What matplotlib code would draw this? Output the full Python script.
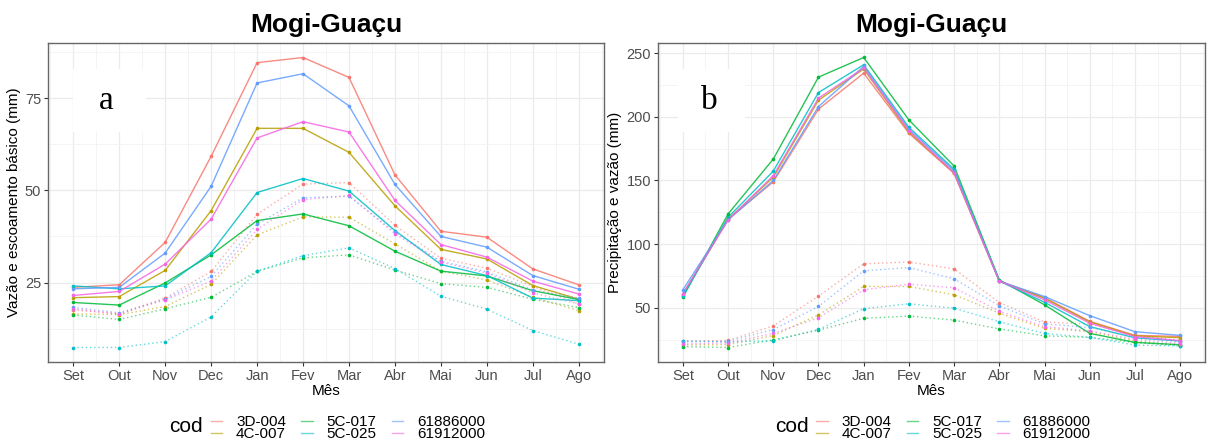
import matplotlib
matplotlib.use("Agg")
import matplotlib.pyplot as plt
from matplotlib.lines import Line2D
from matplotlib.patches import Rectangle
from matplotlib.ticker import MultipleLocator

plt.rcParams['font.family'] = ['Liberation Sans', 'DejaVu Sans']

meses = ["Set", "Out", "Nov", "Dec", "Jan", "Fev", "Mar", "Abr", "Mai", "Jun", "Jul", "Ago"]
codigos = ["3D-004", "4C-007", "5C-017", "5C-025", "61886000", "61912000"]
cores = ["#F8766D", "#B79F00", "#00BA38", "#00BFC4", "#619CFF", "#F564E3"]

# vazão média mensal (mm)
vazao = {
    "3D-004":   [23.7, 24.4, 35.9, 59.2, 84.6, 86.0, 80.6, 54.2, 38.9, 37.3, 28.7, 24.4],
    "4C-007":   [20.9, 21.2, 28.3, 44.5, 66.8, 66.8, 60.3, 45.8, 34.0, 31.4, 24.2, 20.5],
    "5C-017":   [19.6, 18.9, 24.9, 32.5, 41.8, 43.6, 40.4, 33.5, 28.1, 26.8, 22.8, 20.4],
    "5C-025":   [24.1, 23.3, 24.1, 33.1, 49.4, 53.2, 49.8, 39.1, 29.9, 26.9, 20.8, 20.1],
    "61886000": [23.3, 23.7, 33.0, 51.1, 79.1, 81.6, 72.9, 51.6, 37.5, 34.6, 26.9, 23.2],
    "61912000": [21.5, 22.6, 30.0, 42.2, 64.2, 68.6, 65.8, 47.3, 35.3, 31.9, 25.4, 21.9],
}

# escoamento básico (mm)
base = {
    "3D-004":   [17.6, 16.5, 20.8, 28.0, 43.5, 51.7, 52.1, 40.5, 31.6, 28.9, 24.0, 19.2],
    "4C-007":   [16.5, 16.3, 18.5, 24.5, 37.9, 42.8, 42.7, 35.5, 28.1, 25.7, 21.0, 17.4],
    "5C-017":   [16.2, 15.0, 17.9, 21.0, 28.0, 31.7, 32.5, 28.4, 24.7, 23.7, 20.5, 18.2],
    "5C-025":   [7.4, 7.4, 9.0, 15.7, 28.1, 32.3, 34.4, 28.8, 21.3, 17.8, 12.0, 8.3],
    "61886000": [18.3, 16.8, 20.5, 26.7, 40.8, 48.0, 48.4, 38.7, 30.8, 27.9, 23.0, 20.8],
    "61912000": [17.9, 16.5, 20.3, 25.4, 39.4, 47.5, 48.6, 38.2, 30.5, 27.6, 22.2, 19.2],
}

# precipitação média mensal (mm)
precip = {
    "3D-004":   [61.0, 119.5, 148.9, 206.0, 234.2, 187.0, 155.5, 71.0, 58.0, 39.5, 28.4, 27.6],
    "4C-007":   [60.0, 119.5, 152.5, 213.0, 237.5, 188.0, 156.0, 71.0, 57.5, 39.0, 28.0, 26.6],
    "5C-017":   [58.3, 123.7, 166.8, 231.1, 246.5, 197.5, 161.3, 72.0, 52.4, 30.0, 22.9, 21.1],
    "5C-025":   [59.0, 121.0, 157.3, 219.0, 240.8, 191.7, 158.7, 71.0, 54.4, 35.3, 26.5, 24.0],
    "61886000": [64.2, 119.0, 150.0, 208.0, 239.5, 190.2, 157.6, 71.0, 58.9, 43.9, 31.3, 28.4],
    "61912000": [61.0, 119.0, 153.8, 214.6, 238.2, 189.1, 156.0, 71.0, 56.3, 38.0, 27.5, 24.3],
}

W, H = 1209, 442
fig = plt.figure(figsize=(W / 100, H / 100), dpi=100)


def painel(px0, px1, solida, pontilhada, ylabel, major, minor, letra, caixa):
    ax = fig.add_axes([px0 / W, (H - 362) / H, (px1 - px0) / W, (362 - 43) / H])
    x = list(range(1, 13))
    for cod, cor in zip(codigos, cores):
        ax.plot(x, solida[cod], color=cor, lw=1.0, alpha=0.85, zorder=3)
        ax.plot(x, solida[cod], 'o', color=cor, ms=2.6, mew=0, zorder=4)
        ax.plot(x, pontilhada[cod], color=cor, lw=1.0, ls=(0, (1, 2)), alpha=0.6, zorder=3)
        ax.plot(x, pontilhada[cod], 'o', color=cor, ms=2.6, mew=0, zorder=4)
    ax.margins(x=0.05, y=0.05)
    ax.set_xticks(x)
    ax.set_xticklabels(meses)
    ax.xaxis.set_minor_locator(MultipleLocator(0.5))
    ax.yaxis.set_major_locator(MultipleLocator(major))
    ax.yaxis.set_minor_locator(MultipleLocator(minor))
    ax.grid(which='major', color='#EBEBEB', lw=0.9, zorder=0)
    ax.grid(which='minor', color='#F3F3F3', lw=0.6, zorder=0)
    ax.set_axisbelow(True)
    ax.tick_params(which='major', length=3, width=0.8, color='#333333',
                   labelsize=10.5, labelcolor='#4D4D4D', pad=2)
    ax.tick_params(which='minor', length=0)
    for s in ax.spines.values():
        s.set_color('#666666')
        s.set_linewidth(1.0)
    ax.set_xlabel("Mês", fontsize=11, labelpad=1)
    ax.set_ylabel(ylabel, fontsize=11, labelpad=3)
    ax.set_title("Mogi-Guaçu", fontsize=19, fontweight='bold', pad=8)
    bx, bw = caixa
    ax.add_patch(Rectangle((bx, 0.72), bw, 0.2, transform=ax.transAxes,
                           facecolor='white', edgecolor='none', zorder=2))
    ax.text(bx + bw / 2 - 0.005, 0.82, letra, transform=ax.transAxes, ha='center', va='center',
            fontsize=24, family=['Liberation Serif', 'DejaVu Serif'], zorder=5)

    # legenda
    handles = [Line2D([], [], color=c, lw=1.0, alpha=0.6) for c in cores]
    cx = (px0 + px1) / 2
    fig.legend(handles, codigos, loc='center', bbox_to_anchor=((cx + 22) / W, (H - 428) / H),
               ncol=3, frameon=False, fontsize=11, handlelength=0.75, handletextpad=0.9,
               columnspacing=1.0, labelspacing=-0.15, borderpad=0)
    fig.text((cx - 140) / W, (H - 427) / H, "cod", fontsize=15, ha='center', va='center')
    return ax


painel(48, 604, vazao, base, "Vazão e escoamento básico (mm)", 25, 12.5, "a", (0.045, 0.131))
painel(658, 1205, precip, vazao, "Precipitação e vazão (mm)", 50, 25, "b", (0.037, 0.122))

fig.savefig("out.png", dpi=100, facecolor='white')
